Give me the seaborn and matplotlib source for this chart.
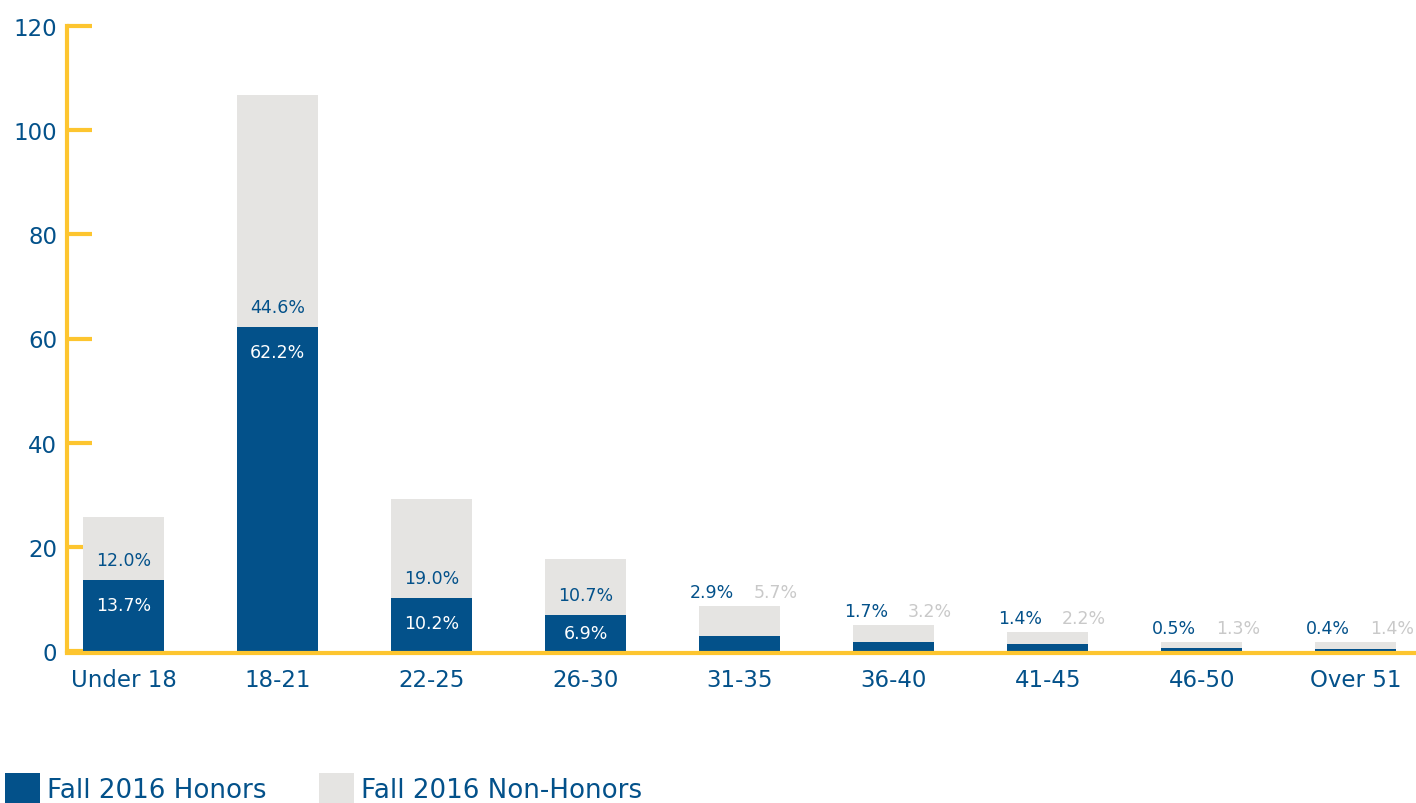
import numpy as np
import pandas as pd
import matplotlib
matplotlib.use('Agg')
import matplotlib.pyplot as plt
from matplotlib.patches import Patch
import seaborn as sns

# data (percent of students per age group)
age_groups = ['Under 18', '18-21', '22-25', '26-30', '31-35', '36-40', '41-45', '46-50', 'Over 51']
honors = [13.7, 62.2, 10.2, 6.9, 2.9, 1.7, 1.4, 0.5, 0.4]
non_honors = [12.0, 44.6, 19.0, 10.7, 5.7, 3.2, 2.2, 1.3, 1.4]
yticks = [0, 20, 40, 60, 80, 100, 120]

# colours
BLUE = '#03518A'
GRAY = '#E5E4E2'
YELLOW = '#FDC52F'
LBL_GRAY = '#C9C9C9'

sns.set_theme(style='white')
plt.rcParams['font.family'] = ['DejaVu Sans']

df = pd.DataFrame({'age': age_groups, 'honors': honors, 'non_honors': non_honors})
df['total'] = df['honors'] + df['non_honors']

fig = plt.figure(figsize=(14.16, 8.04), dpi=100)
ax = fig.add_axes([67/1416, 152/804, 1 - 67/1416, 625/804])

# stacked bars: total (gray) behind, honors (blue) in front
sns.barplot(data=df, x='age', y='total', color=GRAY, width=0.526, ax=ax,
            saturation=1, linewidth=0)
sns.barplot(data=df, x='age', y='honors', color=BLUE, width=0.526, ax=ax,
            saturation=1, linewidth=0)

ax.set_xlim(-0.367, 8.39)
ax.set_ylim(0, 120)
ax.set_yticks(yticks)
ax.set_xlabel('')
ax.set_ylabel('')

for s in ['top', 'right']:
    ax.spines[s].set_visible(False)
for s in ['left', 'bottom']:
    ax.spines[s].set_color(YELLOW)
    ax.spines[s].set_linewidth(3)
# bars sit on top of the axis line
ax.spines['bottom'].set_position(('outward', 1.5))
ax.tick_params(axis='y', left=True, direction='in', length=18, width=3, color=YELLOW,
               labelcolor=BLUE, labelsize=16.5, pad=7)
ax.tick_params(axis='x', bottom=False, length=0, labelcolor=BLUE, labelsize=16.5, pad=11)

# value labels
px_per_unit = 625 / 120
for i, (h, n) in enumerate(zip(honors, non_honors)):
    if h > 5:
        drop = min(25, h * px_per_unit / 2)
        ax.annotate(f'{h:.1f}%', (i, h), xytext=(0, -drop), textcoords='offset pixels',
                    ha='center', va='center', color='white', fontsize=12.5)
        ax.annotate(f'{n:.1f}%', (i, h), xytext=(0, 20), textcoords='offset pixels',
                    ha='center', va='center', color=BLUE, fontsize=12.5)
    else:
        ax.annotate(f'{h:.1f}%', (i, h + n), xytext=(-28, 14), textcoords='offset pixels',
                    ha='center', va='center', color=BLUE, fontsize=12.5)
        ax.annotate(f'{n:.1f}%', (i, h + n), xytext=(36, 14), textcoords='offset pixels',
                    ha='center', va='center', color=LBL_GRAY, fontsize=12.5)

handles = [Patch(facecolor=BLUE, edgecolor='none', label='Fall 2016 Honors'),
           Patch(facecolor=GRAY, edgecolor='none', label='Fall 2016 Non-Honors')]
leg = fig.legend(handles=handles, loc='center left', bbox_to_anchor=(5/1416, 15/804), ncol=2,
                 frameon=False, fontsize=18.8, handlelength=1.35, handleheight=1.35,
                 handletextpad=0.27, columnspacing=2.0, borderaxespad=0, borderpad=0)
for t in leg.get_texts():
    t.set_color(BLUE)

fig.savefig('out.png', dpi=100)
